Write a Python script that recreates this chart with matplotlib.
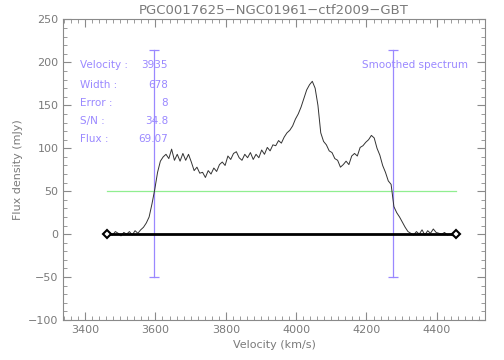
import numpy as np
import matplotlib
matplotlib.use("Agg")
import matplotlib.pyplot as plt
from matplotlib.ticker import MultipleLocator

# ---- data ----
title = "PGC0017625\u2212NGC01961\u2212ctf2009\u2212GBT"
v_start, v_end = 3462, 4454
flux = [0, 2, -1, 3, 1, -2, 2, 0, 3, -1, 4, 1, 5, 8, 13, 20, 35, 52, 72, 85,
        90, 93, 88, 99, 86, 93, 85, 94, 86, 93, 84, 74, 78, 71, 72, 66, 74, 70, 77, 73,
        81, 84, 80, 91, 87, 94, 96, 89, 86, 93, 89, 95, 87, 93, 89, 98, 93, 101, 97, 104,
        103, 109, 106, 113, 118, 121, 126, 134, 140, 148, 158, 168, 174, 178, 170, 150, 118, 108, 104, 97,
        95, 88, 86, 78, 81, 85, 81, 91, 94, 91, 101, 103, 107, 110, 115, 112, 100, 92, 80, 72,
        62, 58, 32, 25, 20, 14, 8, 3, 1, -1, 3, 0, 5, -1, 4, 1, 6, 2, 1, 0,
        2, -1, 0, -2, 1]
velocity = np.linspace(v_start, v_end, len(flux))

vel_center = 3935
width = 678
error = 8
sn = 34.8
flux_int = 69.07
half_level = 50.0
edges = [vel_center - width / 2, vel_center + width / 2]
marker_top = 214
marker_bottom = -50

info_labels = ["Velocity :", "Width :", "Error :", "S/N :", "Flux :"]
info_values = ["3935", "678", "8", "34.8", "69.07"]

# ---- plot ----
fig = plt.figure(figsize=(5.04, 3.6), dpi=100)
ax = fig.add_axes([63.3 / 504, 1 - 320 / 360, (485 - 63.3) / 504, (320 - 19.5) / 360])

gray = "#8a8a8a"
txt = "#7a7a7a"
blue = "#9a88ff"
green = "#90ee90"

ax.plot(velocity, flux, color="#333333", lw=0.7, zorder=3)
ax.plot([velocity[0], velocity[-1]], [0, 0], color="black", lw=2, zorder=4)
ax.plot([velocity[0], velocity[-1]], [0, 0], ls="none", marker="D", ms=4.5,
        mfc="white", mec="black", mew=1.5, zorder=5)
ax.plot([velocity[0], velocity[-1]], [half_level, half_level], color=green, lw=0.9, zorder=2)
for e in edges:
    ax.plot([e, e], [marker_bottom, marker_top], color=blue, lw=0.9, zorder=2)
    ax.plot([e, e], [marker_bottom, marker_top], ls="none", marker="_", ms=7,
            color=blue, mew=0.9, zorder=2)

ax.set_xlim(3338, 4537)
ax.set_ylim(-100, 250)

ax.xaxis.set_major_locator(MultipleLocator(200))
ax.xaxis.set_minor_locator(MultipleLocator(20))
ax.yaxis.set_major_locator(MultipleLocator(50))
ax.yaxis.set_minor_locator(MultipleLocator(10))
ax.tick_params(which="both", direction="in", top=True, right=True, color=gray,
               labelcolor=txt, labelsize=8)
ax.tick_params(which="major", length=6, width=0.8)
ax.tick_params(which="minor", length=3, width=0.6)
for s in ax.spines.values():
    s.set_color(gray)
    s.set_linewidth(0.8)

ax.set_title(title, color=txt, fontsize=9.5, pad=4)
ax.set_xlabel("Velocity (km/s)", color=txt, fontsize=8)
ax.set_ylabel("Flux density (mJy)", color=txt, fontsize=8, labelpad=4)

ys = [197, 174, 153, 132, 111]
for lab, val, y in zip(info_labels, info_values, ys):
    ax.text(3385, y, lab, color=blue, fontsize=7.5, va="center", ha="left")
    ax.text(3636, y, val, color=blue, fontsize=7.5, va="center", ha="right")
ax.text(4187, 197, "Smoothed spectrum", color=blue, fontsize=7.5, va="center", ha="left")

fig.savefig("out.png", dpi=100)
